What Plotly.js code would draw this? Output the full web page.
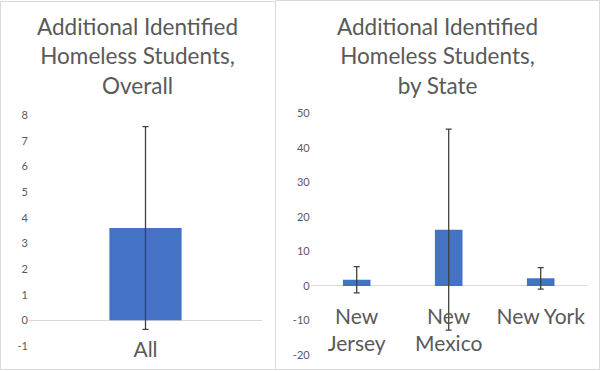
<!DOCTYPE html>
<html>
<head>
<meta charset="utf-8">
<script src="https://cdn.plot.ly/plotly-3.0.1.min.js"></script>
<style>
html,body{margin:0;padding:0;background:#fff;}
#chart{width:601px;height:371px;}
</style>
</head>
<body>
<div id="chart"></div>
<script>
// Data
const overallCategories = ['All'];
const overallValues = [3.6];
const overallErrors = [3.95];

const stateCategories = ['New<br>Jersey', 'New<br>Mexico', 'New York'];
const stateValues = [1.8, 16.3, 2.2];
const stateErrors = [3.8, 29.1, 3.1];

const overallTicks = [-1, 0, 1, 2, 3, 4, 5, 6, 7, 8];
const stateTicks = [-20, -10, 0, 10, 20, 30, 40, 50];

const W = 601, H = 371;
const px = v => v / W;
const py = v => 1 - v / H;

const barColor = '#4472C4';
const errColor = '#404040';
const textColor = '#595959';
const lineColor = '#d9d9d9';
const FONT = 'Lato, "Open Sans", sans-serif';

const traces = [
  {
    type: 'bar', x: overallCategories, y: overallValues,
    xaxis: 'x', yaxis: 'y', width: 0.31,
    marker: {color: barColor},
    error_y: {type: 'data', array: overallErrors, visible: true, color: errColor, thickness: 1.3, width: 3},
    hoverinfo: 'none'
  },
  {
    type: 'bar', x: stateCategories, y: stateValues,
    xaxis: 'x2', yaxis: 'y2', width: 0.30,
    marker: {color: barColor},
    error_y: {type: 'data', array: stateErrors, visible: true, color: errColor, thickness: 1.3, width: 3},
    hoverinfo: 'none'
  }
];

const catAxis = (domain, range, pos) => ({
  domain: domain, range: range, type: 'category',
  anchor: 'free', position: pos,
  showline: false, showgrid: false, zeroline: false, ticks: '',
  tickfont: {family: FONT, size: 21, color: textColor},
  ticklabelstandoff: 15,
  fixedrange: true
});
const valAxis = (domain, range, ticks, anchor) => ({
  domain: domain, range: range, anchor: anchor,
  tickmode: 'array', tickvals: ticks, ticktext: ticks.map(String),
  showline: false, showgrid: false, ticks: '',
  zeroline: true, zerolinecolor: lineColor, zerolinewidth: 1,
  tickfont: {family: FONT, size: 11, color: textColor},
  ticklabelstandoff: 8.5,
  fixedrange: true
});

const layout = {
  width: W, height: H,
  margin: {l: 0, r: 0, t: 0, b: 0},
  paper_bgcolor: '#ffffff', plot_bgcolor: 'rgba(0,0,0,0)',
  showlegend: false,
  font: {family: FONT, color: textColor},
  xaxis: catAxis([px(29), px(262)], [-0.5, 0.5], py(320)),
  yaxis: valAxis([py(346), py(115)], [-1, 8], overallTicks, 'x'),
  xaxis2: catAxis([px(310.7), px(586.7)], [-0.5, 2.5], py(286.7)),
  yaxis2: valAxis([py(355), py(113.3)], [-20, 50], stateTicks, 'x2'),
  shapes: [
    {type: 'rect', xref: 'paper', yref: 'paper', x0: px(0.5), x1: px(275.5), y0: py(369.5), y1: py(1.5), line: {color: lineColor, width: 1}},
    {type: 'rect', xref: 'paper', yref: 'paper', x0: px(275.5), x1: px(599.5), y0: py(369.5), y1: py(0.5), line: {color: lineColor, width: 1}}
  ],
  annotations: [
    {xref: 'paper', yref: 'paper', x: px(137.5), y: py(56), xanchor: 'center', yanchor: 'middle',
     text: 'Additional Identified<br>Homeless Students,<br>Overall', showarrow: false,
     font: {family: FONT, size: 22.5, color: textColor}},
    {xref: 'paper', yref: 'paper', x: px(437), y: py(56), xanchor: 'center', yanchor: 'middle',
     text: 'Additional Identified<br>Homeless Students,<br>by State', showarrow: false,
     font: {family: FONT, size: 22.5, color: textColor}}
  ]
};

Plotly.newPlot('chart', traces, layout, {staticPlot: true, displayModeBar: false});
</script>
</body>
</html>
